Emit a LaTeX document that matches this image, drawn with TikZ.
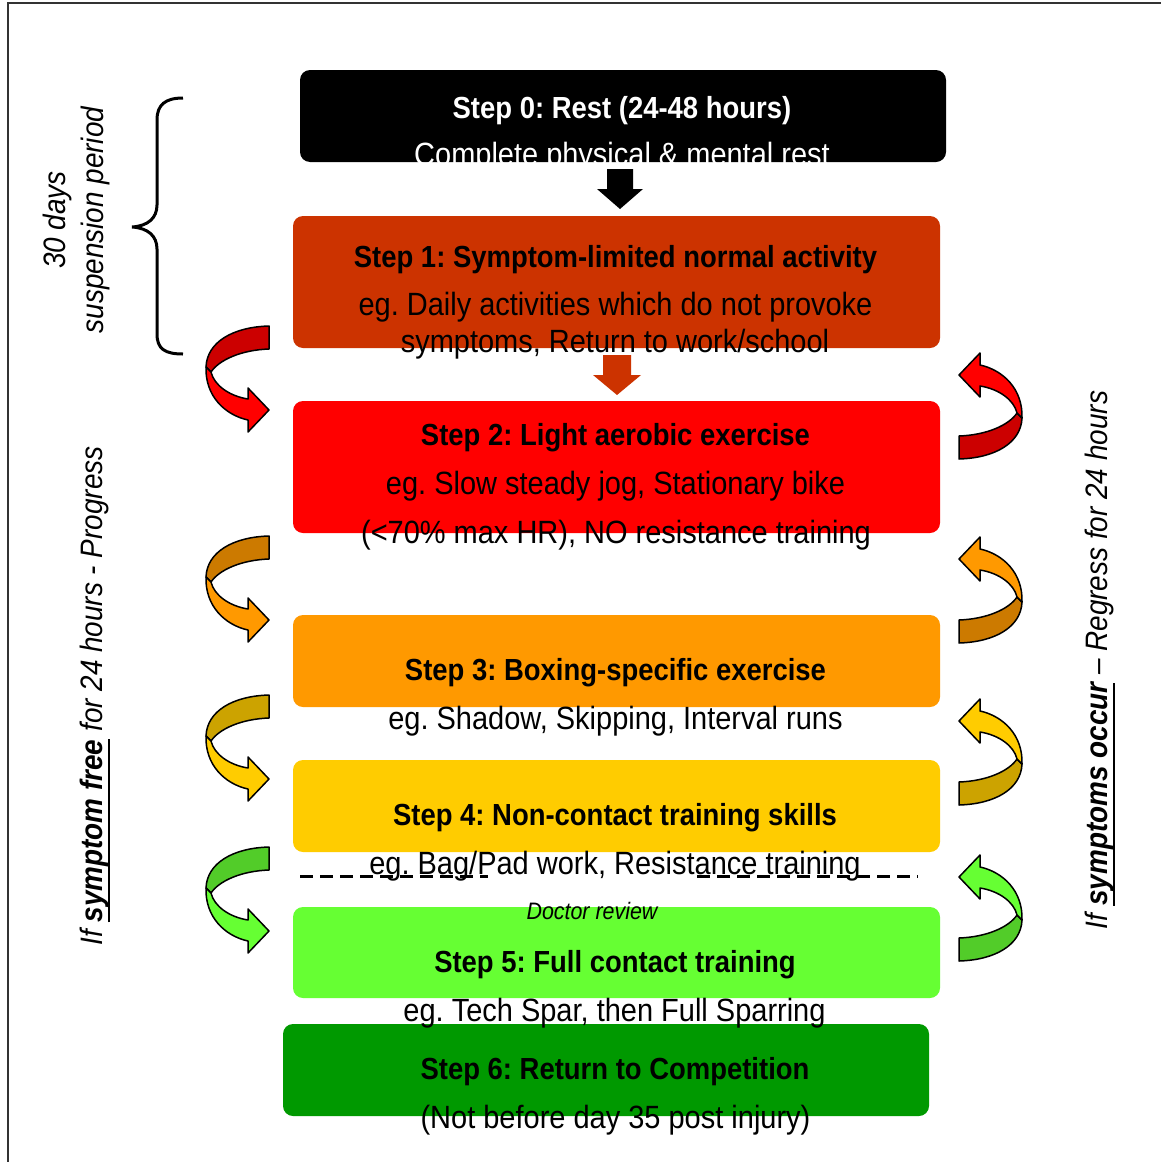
\documentclass[tikz,border=0pt]{standalone}
\usepackage{fontspec}
\setmainfont{Liberation Sans}[FakeStretch=0.9]
\definecolor{cStepA}{HTML}{CC3300}
\definecolor{cStepB}{HTML}{FF0000}
\definecolor{cStepC}{HTML}{FF9900}
\definecolor{cStepD}{HTML}{FFCC00}
\definecolor{cStepE}{HTML}{66FF33}
\definecolor{cStepF}{HTML}{009900}
\definecolor{redD}{HTML}{CC0000}
\definecolor{redL}{HTML}{FF0000}
\definecolor{oraD}{HTML}{CC7A00}
\definecolor{oraL}{HTML}{FF9900}
\definecolor{yelD}{HTML}{CCA300}
\definecolor{yelL}{HTML}{FFCC00}
\definecolor{grnD}{HTML}{52CC29}
\definecolor{grnL}{HTML}{66FF33}
\newcommand\ulx[1]{\setbox0=\hbox{#1}\rlap{\rule[-8pt]{\wd0}{2.5pt}}\box0\relax}
\newcommand\CurvArr[2]{%
 \path[arrline, fill=#1] (64,0) .. controls (28,1) and (2,16) .. (1,41) -- (6,46) .. controls (14,34) and (36,24) .. (64,23) -- cycle;
 \path[arrline, fill=#2] (1,41) .. controls (0,70) and (20,89) .. (43,94) -- (43,106) -- (64,84) -- (43,62) -- (43,73) .. controls (24,70) and (9,59) .. (6,46) -- cycle;
}
\begin{document}
\frenchspacing
\begin{tikzpicture}[x=1pt,y=-1pt,
  stepbox/.style={rounded corners=10pt, inner sep=0pt, draw=none, minimum width=647pt, minimum height=92pt},
  ttl/.style={font=\fontsize{30.5}{36}\selectfont\bfseries, anchor=base, inner sep=0pt},
  body/.style={font=\fontsize{32.2}{38}\selectfont, anchor=base, inner sep=0pt},
  sidetxt/.style={font=\fontsize{31}{38}\selectfont\itshape, rotate=90, inner sep=0pt},
  arrline/.style={draw=black, line width=1.5pt, line join=round}]
\path[fill=white] (0,0) rectangle (1161,1162);
\useasboundingbox (0,0) rectangle (1161,1162);
% frame
\draw[line width=2.5pt, black!80] (8,1162) -- (8,3) -- (1161,3);
% boxes
\node[stepbox, fill=black, minimum width=646pt] (s0) at (623,116) {};
\node[stepbox, fill=cStepA, minimum height=132pt] (s1) at (616.5,282) {};
\node[stepbox, fill=cStepB, minimum height=132pt] (s2) at (616.5,467) {};
\node[stepbox, fill=cStepC] (s3) at (616.5,661) {};
\node[stepbox, fill=cStepD] (s4) at (616.5,806) {};
\node[stepbox, fill=cStepE, minimum height=91pt] (s5) at (616.5,952.5) {};
\node[stepbox, fill=cStepF, minimum width=646pt] (s6) at (606,1070) {};
% block arrows
\fill[black] (607,169) -- (633,169) -- (633,189) -- (643,189) -- (620,209) -- (597,189) -- (607,189) -- cycle;
\fill[cStepA] (603,355) -- (631,355) -- (631,375) -- (641,375) -- (617,395) -- (593,375) -- (603,375) -- cycle;
% texts
\node[ttl, text=white] (t0) at (622,118) {Step 0: Rest (24-48 hours)};
\node[body, text=white] (b0) at (622,165) {Complete physical \& mental rest};
\node[ttl] (t1) at (615.5,267) {Step 1: Symptom-limited normal activity};
\node[body] (b1a) at (615.5,315) {eg. Daily activities which do not provoke};
\node[body] (b1b) at (615,352) {symptoms, Return to work/school};
\node[ttl] (t2) at (615.5,445) {Step 2: Light aerobic exercise};
\node[body] (b2a) at (615.5,494) {eg. Slow steady jog, Stationary bike};
\node[body] (b2b) at (616,543) {(<70\% max HR), NO resistance training};
\node[ttl] (t3) at (615.5,680) {Step 3: Boxing-specific exercise};
\node[body] (b3) at (615.5,729) {eg. Shadow, Skipping, Interval runs};
\node[ttl] (t4) at (615,825) {Step 4: Non-contact training skills};
\node[body] (b4) at (615,874) {eg. Bag/Pad work, Resistance training};
\node[ttl] (t5) at (615,972) {Step 5: Full contact training};
\node[body] (b5) at (614.5,1021) {eg. Tech Spar, then Full Sparring};
\node[ttl] (t6) at (615,1079) {Step 6: Return to Competition};
\node[body] (b6) at (615.5,1128) {(Not before day 35 post injury)};
% doctor review line
\coordinate (dA) at (300,876); \coordinate (dB) at (488,876);
\coordinate (dC) at (697,876); \coordinate (dD) at (918,876);
\draw[line width=3pt, dash pattern=on 13pt off 7pt] (dA) -- (dB);
\draw[line width=3pt, dash pattern=on 13pt off 7pt] (dC) -- (dD);
\node[font=\fontsize{23.8}{28}\selectfont\itshape, anchor=base, inner sep=0pt] (doc) at (592,919) {Doctor review};
% brace
\draw[line width=3pt] (183,98) .. controls (165,98) and (157,105) .. (157,120) -- (157,205) .. controls (157,218) and (148,226) .. (132,227) .. controls (148,228) and (157,236) .. (157,249) -- (157,334) .. controls (157,349) and (165,354) .. (183,354);
\node[sidetxt, align=center] (susp) at (76,220) {30 days\\suspension period};
% side labels
\node[sidetxt] (lside) at (95,696) {If \ulx{\bfseries symptom free} for 24 hours - Progress};
\node[sidetxt] (rside) at (1100,660) {If \ulx{\bfseries symptoms occur} – Regress for 24 hours};
% curved arrows left
\begin{scope}[shift={(205,326)}]\CurvArr{redD}{redL}\end{scope}
\begin{scope}[shift={(205,536)}]\CurvArr{oraD}{oraL}\end{scope}
\begin{scope}[shift={(205,695)}]\CurvArr{yelD}{yelL}\end{scope}
\begin{scope}[shift={(205,847)}]\CurvArr{grnD}{grnL}\end{scope}
% curved arrows right
\begin{scope}[shift={(1023,459)}, rotate=180]\CurvArr{redD}{redL}\end{scope}
\begin{scope}[shift={(1023,643)}, rotate=180]\CurvArr{oraD}{oraL}\end{scope}
\begin{scope}[shift={(1023,805)}, rotate=180]\CurvArr{yelD}{yelL}\end{scope}
\begin{scope}[shift={(1023,961)}, rotate=180]\CurvArr{grnD}{grnL}\end{scope}
\end{tikzpicture}
\end{document}
